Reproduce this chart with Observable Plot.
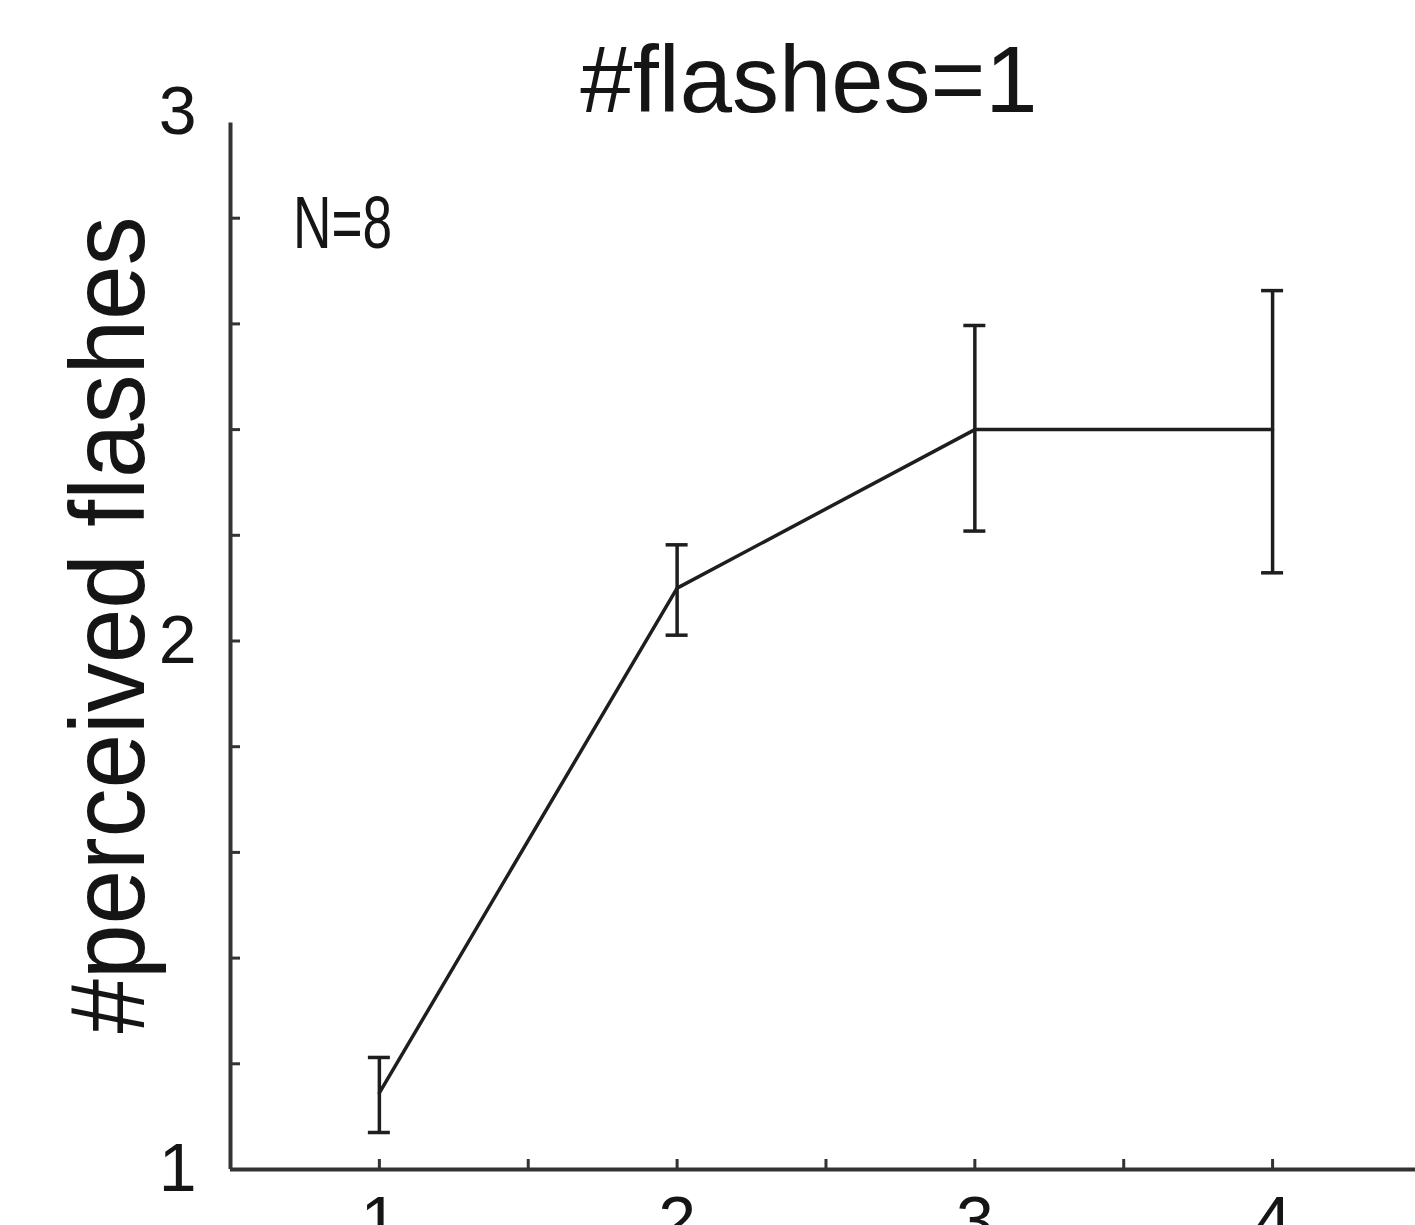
<!DOCTYPE html>
<html>
<head>
<meta charset="utf-8">
<script src="https://cdn.jsdelivr.net/npm/d3@7"></script>
<script src="https://cdn.jsdelivr.net/npm/@observablehq/plot@0.6"></script>
<style>
  html, body { margin: 0; padding: 0; background: #fff; overflow: hidden; }
  #wrap { position: relative; width: 1415px; height: 1225px; overflow: hidden;
          font-family: "Liberation Sans", Arial, Helvetica, sans-serif; color: #151515; }
  #chart { position: absolute; left: 0; top: 0; }
  .title { position: absolute; left: 809px; top: 33px; transform: translateX(-50%);
           font-size: 94px; line-height: 94px; white-space: nowrap; }
  .ylabel { position: absolute; left: 107px; top: 625px; transform: translate(-50%, -50%) rotate(-90deg) scale(1, 1.08);
            font-size: 98px; line-height: 98px; white-space: nowrap; }
  .note { position: absolute; left: 293px; top: 186px; transform: scaleX(0.72); transform-origin: 0 0;
          font-size: 74px; line-height: 74px; white-space: nowrap; }
</style>
</head>
<body>
<div id="wrap">
  <div id="chart"></div>
  <div class="title" id="title"></div>
  <div class="ylabel" id="ylabel"></div>
  <div class="note" id="note"></div>
</div>
<script>
// ---- data ----
const titleText = "#flashes=1";
const yLabelText = "#perceived flashes";
const noteText = "N=8";
const xValues = [1, 2, 3, 4];
const meanValues = [1.145, 2.10, 2.40, 2.40];
const lowValues = [1.07, 2.011, 2.208, 2.129];
const highValues = [1.212, 2.182, 2.597, 2.663];
const xTickValues = [1, 1.5, 2, 2.5, 3, 3.5, 4];
const xTickLabelValues = [1, 2, 3, 4];
const xTickLabels = ["1", "2", "3", "4"];
const yTickValues = [1.2, 1.4, 1.6, 1.8, 2, 2.2, 2.4, 2.6, 2.8];
const yTickLabelValues = [1, 2, 3];
const yTickLabels = ["1", "2", "3"];

// ---- layout ----
const W = 1415, H = 1260;
const mL = 230, mR = 0, mT = 112, mB = 91;
const xDomain = [0.5, 4.48];
const yDomain = [1, 3];
const yAxisTop = 2.98;
const pxPerX = (W - mL - mR) / (xDomain[1] - xDomain[0]);
const pxPerY = (H - mT - mB) / (yDomain[1] - yDomain[0]);
const tickLen = 10;
const capHalf = 11;
const ink = "#1e1e1e";

const points = xValues.map((x, i) => ({x, mean: meanValues[i], lo: lowValues[i], hi: highValues[i]}));
const yTicks = yTickValues.map(v => ({v}));
const xTicks = xTickValues.map(v => ({v}));
const yLabs = yTickLabelValues.map((v, i) => ({v, t: yTickLabels[i]}));
const xLabs = xTickLabelValues.map((v, i) => ({v, t: xTickLabels[i]}));

const chart = Plot.plot({
  width: W, height: H,
  marginLeft: mL, marginRight: mR, marginTop: mT, marginBottom: mB,
  x: {type: "linear", domain: xDomain, axis: null},
  y: {type: "linear", domain: yDomain, axis: null},
  style: {fontFamily: '"Liberation Sans", Arial, Helvetica, sans-serif', background: "#fff", color: ink},
  marks: [
    // axes lines
    Plot.ruleX([xDomain[0]], {y1: yDomain[0], y2: yAxisTop, stroke: "#333", strokeWidth: 4}),
    Plot.ruleY([yDomain[0]], {x1: xDomain[0], x2: xDomain[1], stroke: "#333", strokeWidth: 4}),
    // inward ticks
    Plot.ruleY(yTicks, {y: "v", x1: xDomain[0], x2: xDomain[0] + tickLen / pxPerX, stroke: "#333", strokeWidth: 3}),
    Plot.ruleX(xTicks, {x: "v", y1: yDomain[0], y2: yDomain[0] + tickLen / pxPerY, stroke: "#333", strokeWidth: 3}),
    // tick labels
    Plot.text(yLabs, {x: xDomain[0], y: "v", text: "t", dx: -34, textAnchor: "end", fontSize: 68, fill: "#151515"}),
    Plot.text(xLabs, {x: "v", y: yDomain[0], text: "t", dy: 26, lineAnchor: "top", fontSize: 68, fill: "#151515"}),
    // error bars
    Plot.ruleX(points, {x: "x", y1: "lo", y2: "hi", stroke: ink, strokeWidth: 3.5}),
    Plot.ruleY(points, {y: "lo", x1: d => d.x - capHalf / pxPerX, x2: d => d.x + capHalf / pxPerX, stroke: ink, strokeWidth: 3.5}),
    Plot.ruleY(points, {y: "hi", x1: d => d.x - capHalf / pxPerX, x2: d => d.x + capHalf / pxPerX, stroke: ink, strokeWidth: 3.5}),
    // mean line
    Plot.line(points, {x: "x", y: "mean", stroke: ink, strokeWidth: 3.5})
  ]
});
document.getElementById("chart").appendChild(chart);
document.getElementById("title").textContent = titleText;
document.getElementById("ylabel").textContent = yLabelText;
document.getElementById("note").textContent = noteText;
</script>
</body>
</html>
